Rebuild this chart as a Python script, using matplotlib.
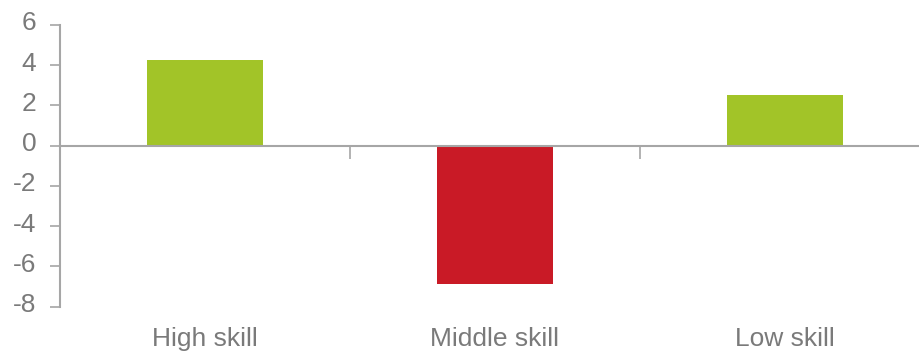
import matplotlib
matplotlib.use("Agg")
import matplotlib.pyplot as plt
import matplotlib.transforms as mtransforms

categories = ["High skill", "Middle skill", "Low skill"]
values = [4.25, -6.85, 2.5]
y_ticks = [-8, -6, -4, -2, 0, 2, 4, 6]

GREEN = "#a2c428"
RED = "#c91a26"
AXIS = "#a6a6a6"
TEXT = "#7a7a7a"

plt.rcParams["font.family"] = ["Liberation Sans", "DejaVu Sans"]

fig = plt.figure(figsize=(9.2, 3.52), dpi=100)
W, H = 920, 352
left_px, right_px = 60, 930
top_px, bot_px = 25, 306.7
ax = fig.add_axes([left_px / W, (H - bot_px) / H, (right_px - left_px) / W, (bot_px - top_px) / H])

x = list(range(len(categories)))
colors = [GREEN if v >= 0 else RED for v in values]
ax.bar(x, values, width=0.4, color=colors, zorder=2)

ax.set_xlim(-0.5, len(categories) - 0.5)
ax.set_ylim(-8, 6)
ax.set_yticks(y_ticks)
ax.set_yticklabels([str(t) for t in y_ticks])

for s in ["top", "right"]:
    ax.spines[s].set_visible(False)
ax.spines["left"].set_color(AXIS)
ax.spines["left"].set_linewidth(1.5)
ax.spines["bottom"].set_position(("data", 0))
ax.spines["bottom"].set_color(AXIS)
ax.spines["bottom"].set_linewidth(1.5)
ax.spines["bottom"].set_zorder(3)

ax.tick_params(axis="y", colors=AXIS, labelcolor=TEXT, labelsize=19, length=7, width=1.2, pad=10)
shift = mtransforms.ScaledTranslation(0, 3 / 72, fig.dpi_scale_trans)
for lbl in ax.get_yticklabels():
    lbl.set_transform(lbl.get_transform() + shift)

ax.set_xticks([i + 0.5 for i in range(len(categories) - 1)])
ax.set_xticklabels([])
ax.tick_params(axis="x", colors=AXIS, length=9, width=1.2, direction="out")

trans = mtransforms.blended_transform_factory(ax.transData, ax.transAxes)
for i, c in enumerate(categories):
    ax.text(i, -0.139, c, transform=trans, ha="center", va="baseline",
            fontsize=19, color=TEXT)

fig.savefig("out.png", dpi=100)
